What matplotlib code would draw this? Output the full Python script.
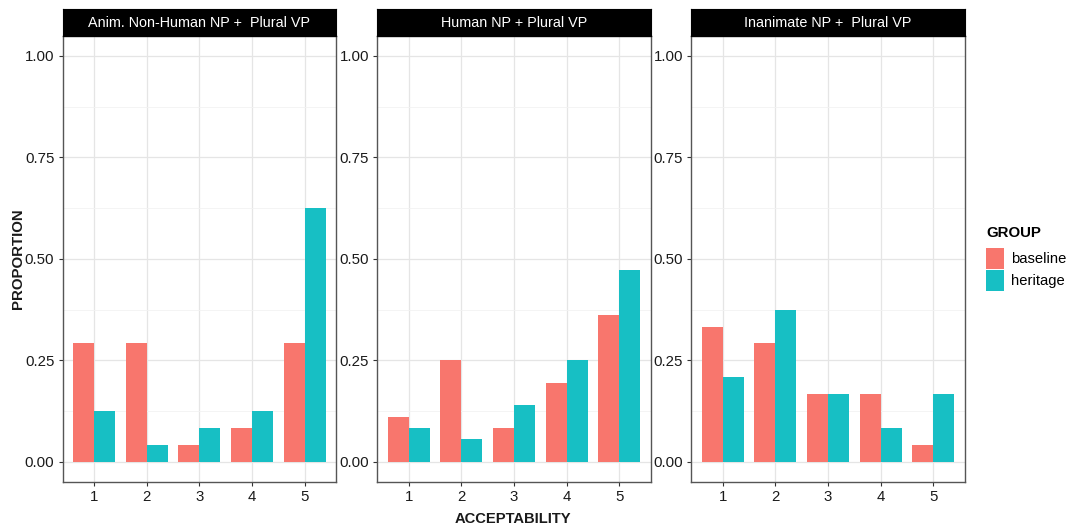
import matplotlib
matplotlib.use("Agg")
import matplotlib.pyplot as plt
import numpy as np
from matplotlib.patches import Patch

plt.rcParams['font.family'] = ['Liberation Sans', 'DejaVu Sans']

# data
panels = ["Anim. Non-Human NP +  Plural VP", "Human NP + Plural VP", "Inanimate NP +  Plural VP"]
levels = [1, 2, 3, 4, 5]
groups = ["baseline", "heritage"]
baseline = [
    [0.292, 0.292, 0.042, 0.083, 0.292],
    [0.110, 0.250, 0.083, 0.195, 0.362],
    [0.333, 0.292, 0.167, 0.167, 0.042],
]
heritage = [
    [0.125, 0.042, 0.083, 0.125, 0.625],
    [0.083, 0.056, 0.139, 0.250, 0.472],
    [0.208, 0.375, 0.167, 0.083, 0.167],
]
colors = {"baseline": "#F8766D", "heritage": "#17BFC4"}

W, H = 1069, 528
fig = plt.figure(figsize=(W / 100, H / 100), dpi=100)

lefts = [62.7, 377.3, 691.3]
pw = 273.5
top, bottom = 35.7, 482
strip_top = 9.3

def px(x0, y0, w, h):
    return [x0 / W, 1 - (y0 + h) / H, w / W, h / H]

for i, name in enumerate(panels):
    ax = fig.add_axes(px(lefts[i], top, pw, bottom - top))
    x = np.array(levels)
    ax.bar(x - 0.2, baseline[i], width=0.4, color=colors["baseline"], zorder=3)
    ax.bar(x + 0.2, heritage[i], width=0.4, color=colors["heritage"], zorder=3)
    ax.set_xlim(0.4, 5.6)
    ax.set_ylim(-0.05, 1.05)
    ax.set_xticks(levels)
    ax.set_yticks([0, 0.25, 0.5, 0.75, 1.0])
    ax.set_yticklabels(["0.00", "0.25", "0.50", "0.75", "1.00"])
    ax.set_yticks([0.125, 0.375, 0.625, 0.875], minor=True)
    ax.grid(True, which="major", color="#E5E5E5", linewidth=0.9, zorder=0)
    ax.grid(True, which="minor", axis="y", color="#F2F2F2", linewidth=0.6, zorder=0)
    ax.tick_params(axis="both", which="major", labelsize=10.8, colors="#333333",
                   labelcolor="#1A1A1A", length=3, width=0.8, pad=3)
    ax.tick_params(axis="y", which="minor", length=0)
    for s in ax.spines.values():
        s.set_color("#555555")
        s.set_linewidth(1.0)
    ax.set_axisbelow(True)

    sax = fig.add_axes(px(lefts[i], strip_top, pw, top - strip_top))
    sax.set_facecolor("black")
    sax.set_xticks([])
    sax.set_yticks([])
    for s in sax.spines.values():
        s.set_color("black")
    sax.text(0.5, 0.47, name, color="white", fontsize=10.4, ha="center", va="center",
             transform=sax.transAxes)

fig.text(18 / W, 1 - 259 / H, "PROPORTION", rotation=90, fontsize=10.8, fontweight="bold",
         ha="center", va="center", color="#1A1A1A")
fig.text(513 / W, 1 - 519 / H, "ACCEPTABILITY", fontsize=10.6, fontweight="bold",
         ha="center", va="center", color="#1A1A1A")

handles = [Patch(facecolor=colors[g], edgecolor="none") for g in groups]
leg = fig.legend(handles, groups, title="GROUP", loc="upper left",
                 bbox_to_anchor=(986 / W, 1 - 226 / H), frameon=False,
                 borderpad=0, borderaxespad=0,
                 fontsize=10.6, title_fontproperties={"weight": "bold", "size": 10.8},
                 handlelength=1.22, handleheight=1.8, handletextpad=0.5, labelspacing=0.05)
leg._legend_box.align = "left"
leg._legend_box.sep = 6

fig.savefig("out.png", dpi=100)
